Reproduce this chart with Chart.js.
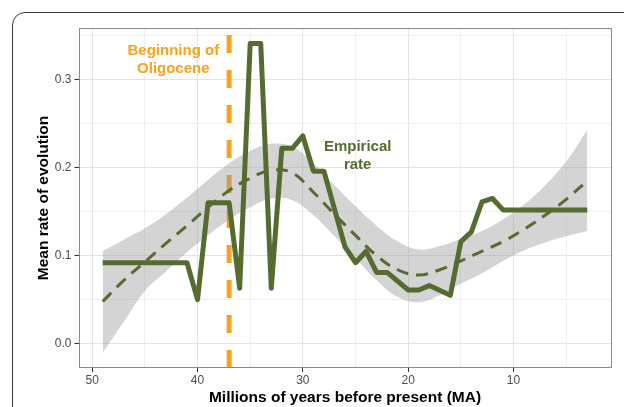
<!DOCTYPE html>
<html>
<head>
<meta charset="utf-8">
<script src="https://cdn.jsdelivr.net/npm/chart.js@4.4.1/dist/chart.umd.min.js"></script>
<style>
  html, body { margin: 0; padding: 0; background: #fff; overflow: hidden; width: 624px; height: 407px; }
  #frame { position: absolute; left: 12px; top: 12px; width: 660px; height: 440px;
           border: 1.3px solid #3b3b3b; border-top-left-radius: 13px; box-sizing: border-box; }
  #wrap { position: absolute; left: 0; top: 0; width: 624px; height: 407px; }
</style>
</head>
<body>
<div id="frame"></div>
<div id="wrap"><canvas id="c" width="624" height="407"></canvas></div>
<script>
// Observed mean rate of evolution (vertices of the series, MA = millions of years ago)
const empiricalMA   = [49, 41, 40, 39, 37, 36, 35, 34, 33, 32, 31, 30, 29, 28, 26, 25, 24, 23, 22, 20, 19, 18, 16, 15, 14, 13, 12, 11, 3];
const empiricalRate = [0.092, 0.092, 0.050, 0.160, 0.160, 0.063, 0.341, 0.341, 0.063, 0.222, 0.222, 0.236, 0.196, 0.196, 0.110, 0.092, 0.105, 0.081, 0.081, 0.061, 0.061, 0.066, 0.055, 0.116, 0.127, 0.161, 0.165, 0.152, 0.152];

// Smoothed trend and its confidence band
const smoothMA    = [49, 47, 45, 43, 41, 39, 37, 35, 33, 31, 29, 27, 25, 23, 21, 19, 17, 15, 13, 11, 9, 7, 5, 3];
const smoothFit   = [0.048, 0.072, 0.093, 0.114, 0.134, 0.155, 0.174, 0.188, 0.197, 0.194, 0.172, 0.147, 0.123, 0.100, 0.084, 0.078, 0.084, 0.094, 0.105, 0.116, 0.130, 0.146, 0.164, 0.185];
const smoothUpper = [0.105, 0.118, 0.131, 0.147, 0.166, 0.186, 0.205, 0.219, 0.227, 0.224, 0.205, 0.180, 0.156, 0.134, 0.116, 0.107, 0.111, 0.119, 0.128, 0.141, 0.158, 0.180, 0.207, 0.243];
const smoothLower = [-0.010, 0.025, 0.060, 0.082, 0.104, 0.123, 0.141, 0.155, 0.165, 0.163, 0.146, 0.122, 0.097, 0.072, 0.053, 0.047, 0.055, 0.068, 0.080, 0.094, 0.106, 0.115, 0.122, 0.128];

// Start of the Oligocene epoch
const oligoceneStartMA = 37;

// Labelled ticks
const xTickLabels = [50, 40, 30, 20, 10];
const yTickLabels = [0.0, 0.1, 0.2, 0.3];

const GREEN = '#556B2F';
const ORANGE = '#F9A31B';
const FONT = "'Liberation Sans', Arial, Helvetica, sans-serif";

const xMin = 0.7, xMax = 51.3;
const yMin = -0.0276, yMax = 0.3586;

const pairs = (xs, ys) => xs.map((x, i) => ({ x: x, y: ys[i] }));
const isLabelledX = v => xTickLabels.some(t => Math.abs(t - v) < 1e-6);
const isLabelledY = v => yTickLabels.some(t => Math.abs(t - v) < 1e-6);

// Panel frame and text annotations
const panelPlugin = {
  id: 'panel',
  afterDatasetsDraw(chart) {
    const { ctx, chartArea: a, scales } = chart;
    ctx.save();
    ctx.strokeStyle = '#8a8a8a';
    ctx.lineWidth = 1;
    ctx.strokeRect(Math.round(a.left) + 0.5, Math.round(a.top) + 0.5,
                   Math.round(a.right - a.left) - 1, Math.round(a.bottom - a.top) - 1);

    ctx.textAlign = 'center';
    ctx.textBaseline = 'middle';
    ctx.font = 'bold 15px ' + FONT;
    const notes = [
      { text: 'Beginning of', ma: 42.3, v: 0.333, color: ORANGE },
      { text: 'Oligocene',    ma: 42.3, v: 0.312, color: ORANGE },
      { text: 'Empirical',    ma: 24.8, v: 0.2235, color: GREEN },
      { text: 'rate',         ma: 24.8, v: 0.2028, color: GREEN }
    ];
    notes.forEach(n => {
      ctx.fillStyle = n.color;
      ctx.fillText(n.text, scales.x.getPixelForValue(n.ma), scales.y.getPixelForValue(n.v));
    });
    ctx.restore();
  }
};

new Chart(document.getElementById('c'), {
  type: 'line',
  data: {
    datasets: [
      {
        label: 'Empirical rate',
        data: pairs(empiricalMA, empiricalRate),
        borderColor: GREEN,
        borderWidth: 5,
        borderJoinStyle: 'round',
        pointRadius: 0,
        tension: 0,
        fill: false
      },
      {
        label: 'Trend',
        data: pairs(smoothMA, smoothFit),
        borderColor: GREEN,
        borderWidth: 3,
        borderDash: [12, 8],
        pointRadius: 0,
        tension: 0.4,
        fill: false
      },
      {
        label: 'Upper',
        data: pairs(smoothMA, smoothUpper),
        borderWidth: 0,
        borderColor: 'rgba(0,0,0,0)',
        backgroundColor: 'rgba(153,153,153,0.42)',
        pointRadius: 0,
        tension: 0.4,
        fill: '+1'
      },
      {
        label: 'Lower',
        data: pairs(smoothMA, smoothLower),
        borderWidth: 0,
        borderColor: 'rgba(0,0,0,0)',
        pointRadius: 0,
        tension: 0.4,
        fill: false
      },
      {
        label: 'Oligocene',
        data: [{ x: oligoceneStartMA, y: yMin }, { x: oligoceneStartMA, y: yMax }],
        borderColor: ORANGE,
        borderWidth: 5,
        borderDash: [18, 17],
        borderCapStyle: 'butt',
        pointRadius: 0,
        fill: false
      }
    ]
  },
  options: {
    responsive: false,
    animation: false,
    devicePixelRatio: 1,
    layout: { padding: { top: 28, right: 12.5, bottom: 0, left: 0 } },
    plugins: { legend: { display: false }, tooltip: { enabled: false } },
    scales: {
      x: {
        type: 'linear',
        reverse: true,
        min: xMin,
        max: xMax,
        afterFit: s => { s.height = 39; },
        border: { display: false },
        grid: {
          color: c => isLabelledX(c.tick.value) ? '#e3e3e3' : '#efefef',
          lineWidth: 1,
          tickLength: 4,
          tickColor: c => isLabelledX(c.tick.value) ? '#333333' : 'rgba(0,0,0,0)'
        },
        ticks: {
          stepSize: 5,
          includeBounds: false,
          autoSkip: false,
          maxRotation: 0,
          padding: 1,
          color: '#4d4d4d',
          font: { family: FONT, size: 12 },
          callback: v => isLabelledX(v) ? String(v) : ''
        },
        title: {
          display: true,
          text: 'Millions of years before present (MA)',
          color: '#000',
          font: { family: FONT, size: 15.5, weight: 'bold', lineHeight: 1.15 },
          padding: { top: 0, bottom: 0 }
        }
      },
      y: {
        type: 'linear',
        min: yMin,
        max: yMax,
        afterFit: s => { s.width = 78.5; },
        border: { display: false },
        grid: {
          color: c => isLabelledY(c.tick.value) ? '#e3e3e3' : '#efefef',
          lineWidth: 1,
          tickLength: 4,
          tickColor: c => isLabelledY(c.tick.value) ? '#333333' : 'rgba(0,0,0,0)'
        },
        ticks: {
          stepSize: 0.05,
          includeBounds: false,
          autoSkip: false,
          padding: 3,
          color: '#4d4d4d',
          font: { family: FONT, size: 12 },
          callback: v => isLabelledY(v) ? (Math.round(v * 10) / 10).toFixed(1) : ''
        },
        title: {
          display: true,
          text: 'Mean rate of evolution',
          color: '#000',
          font: { family: FONT, size: 15.5, weight: 'bold', lineHeight: 1.2 },
          padding: { top: 34, bottom: 0 }
        }
      }
    }
  },
  plugins: [panelPlugin]
});
</script>
</body>
</html>
